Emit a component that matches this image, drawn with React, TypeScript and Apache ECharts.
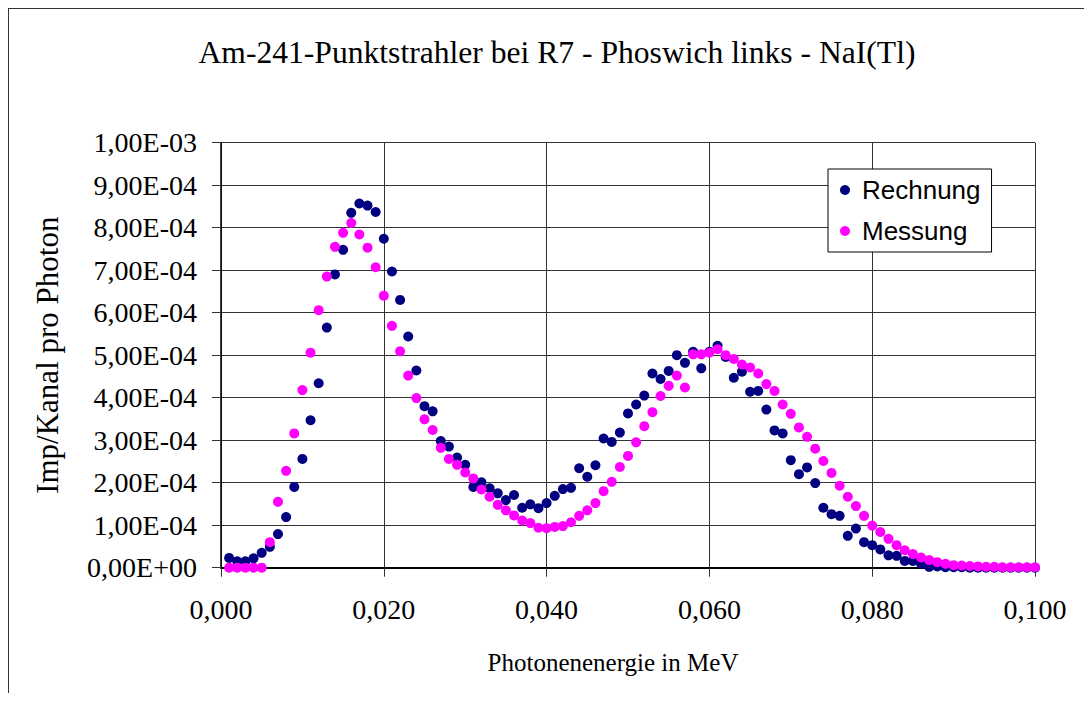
import React, { useEffect, useRef } from "react";
import * as echarts from "echarts";

const TITLE = "Am-241-Punktstrahler bei R7 - Phoswich links - NaI(Tl)";
const X_NAME = "Photonenenergie in MeV";
const Y_NAME = "Imp/Kanal pro Photon";
const SERIES_NAMES = ["Rechnung", "Messung"];

// Photon energy per channel (MeV)
const energies = [
  0.001, 0.002, 0.003, 0.004, 0.005, 0.006, 0.007, 0.008, 0.009, 0.010,
  0.011, 0.012, 0.013, 0.014, 0.015, 0.016, 0.017, 0.018, 0.019, 0.020,
  0.021, 0.022, 0.023, 0.024, 0.025, 0.026, 0.027, 0.028, 0.029, 0.030,
  0.031, 0.032, 0.033, 0.034, 0.035, 0.036, 0.037, 0.038, 0.039, 0.040,
  0.041, 0.042, 0.043, 0.044, 0.045, 0.046, 0.047, 0.048, 0.049, 0.050,
  0.051, 0.052, 0.053, 0.054, 0.055, 0.056, 0.057, 0.058, 0.059, 0.060,
  0.061, 0.062, 0.063, 0.064, 0.065, 0.066, 0.067, 0.068, 0.069, 0.070,
  0.071, 0.072, 0.073, 0.074, 0.075, 0.076, 0.077, 0.078, 0.079, 0.080,
  0.081, 0.082, 0.083, 0.084, 0.085, 0.086, 0.087, 0.088, 0.089, 0.090,
  0.091, 0.092, 0.093, 0.094, 0.095, 0.096, 0.097, 0.098, 0.099, 0.100,
];

// Values in units of 1E-04 Imp/Kanal pro Photon
const rechnungE4 = [
  0.23, 0.15, 0.15, 0.22, 0.35, 0.49, 0.79, 1.19, 1.90, 2.56,
  3.47, 4.34, 5.65, 6.90, 7.48, 8.35, 8.57, 8.52, 8.37, 7.74,
  6.97, 6.30, 5.44, 4.64, 3.80, 3.68, 2.98, 2.85, 2.59, 2.42,
  1.90, 2.01, 1.87, 1.75, 1.59, 1.71, 1.41, 1.49, 1.40, 1.52,
  1.69, 1.85, 1.88, 2.34, 2.14, 2.41, 3.04, 2.96, 3.18, 3.63,
  3.84, 4.05, 4.57, 4.44, 4.63, 5.00, 4.82, 5.08, 4.69, 5.08,
  5.22, 4.96, 4.47, 4.61, 4.14, 4.16, 3.72, 3.23, 3.16, 2.53,
  2.20, 2.36, 1.99, 1.41, 1.26, 1.22, 0.75, 0.92, 0.60, 0.53,
  0.43, 0.29, 0.28, 0.16, 0.16, 0.09, 0.02, 0.03, 0.01, 0.01,
  0.01, 0.00, 0.00, 0.00, 0.00, 0.00, 0.00, 0.00, 0.00, 0.00,
];

const messungE4 = [
  0.00, 0.00, 0.00, 0.00, 0.00, 0.60, 1.55, 2.28, 3.16, 4.18,
  5.06, 6.06, 6.85, 7.55, 7.88, 8.11, 7.84, 7.53, 7.07, 6.40,
  5.69, 5.09, 4.52, 3.99, 3.49, 3.24, 2.82, 2.56, 2.42, 2.24,
  2.10, 1.84, 1.67, 1.48, 1.35, 1.23, 1.11, 1.05, 0.94, 0.93,
  0.96, 0.98, 1.07, 1.22, 1.35, 1.52, 1.80, 2.02, 2.37, 2.63,
  2.95, 3.33, 3.66, 4.04, 4.28, 4.52, 4.24, 5.02, 5.02, 5.06,
  5.14, 5.00, 4.91, 4.78, 4.71, 4.57, 4.32, 4.16, 3.84, 3.62,
  3.30, 3.08, 2.80, 2.51, 2.23, 1.93, 1.67, 1.45, 1.22, 0.99,
  0.84, 0.68, 0.53, 0.41, 0.32, 0.24, 0.18, 0.13, 0.09, 0.06,
  0.05, 0.04, 0.03, 0.02, 0.02, 0.01, 0.01, 0.01, 0.01, 0.01,
];

const X_MIN = 0;
const X_MAX = 0.1;
const X_STEP = 0.02;
const Y_MIN = 0;
const Y_MAX = 0.001;
const Y_STEP = 0.0001;

const COLORS = ["#000080", "#FF00FF"];
const SERIF = "'Liberation Serif', 'Times New Roman', serif";
const SANS = "'Liberation Sans', Arial, sans-serif";

function fmtX(v: number): string {
  return v.toFixed(3).replace(".", ",");
}

function fmtY(v: number): string {
  if (Math.abs(v) < 1e-12) return "0,00E+00";
  const s = v.toExponential(2);
  const [m, e] = s.split("e");
  const n = parseInt(e, 10);
  const sign = n < 0 ? "-" : "+";
  return m.replace(".", ",") + "E" + sign + String(Math.abs(n)).padStart(2, "0");
}

export default function App() {
  const ref = useRef<HTMLDivElement>(null);

  useEffect(() => {
    document.body.style.overflow = "hidden";
    if (!ref.current) return;
    const chart = echarts.init(ref.current, undefined, { renderer: "svg" });
    const toPairs = (vals: number[]) => vals.map((v, i) => [energies[i], v * 1e-4]);

    chart.setOption({
      animation: false,
      backgroundColor: "#ffffff",
      title: {
        text: TITLE,
        left: 545,
        top: 24,
        textAlign: "center",
        textStyle: { fontFamily: SERIF, fontSize: 31.6, fontWeight: "normal", color: "#000" },
      },
      legend: {
        data: SERIES_NAMES,
        orient: "vertical",
        left: 821,
        top: 162,
        icon: "circle",
        itemWidth: 24,
        itemHeight: 10,
        itemGap: 15,
        padding: [8, 11, 8, 12],
        borderColor: "#000",
        borderWidth: 1,
        backgroundColor: "#fff",
        textStyle: { fontFamily: SANS, fontSize: 26, color: "#000", lineHeight: 24 },
      },
      grid: { left: 214, top: 135.7, width: 814, height: 425, containLabel: false },
      xAxis: {
        type: "value",
        min: X_MIN,
        max: X_MAX,
        interval: X_STEP,
        name: X_NAME,
        nameLocation: "middle",
        nameGap: 82,
        nameTextStyle: { fontFamily: SERIF, fontSize: 25, color: "#000", padding: [0, 30, 0, 0] },
        axisLine: { show: true, onZero: false, lineStyle: { color: "#000", width: 2 } },
        axisTick: { show: true, inside: false, length: 9, lineStyle: { color: "#333", width: 1 } },
        axisLabel: { margin: 28, formatter: fmtX, fontFamily: SERIF, fontSize: 28, color: "#000" },
        splitLine: { show: true, lineStyle: { color: "#333", width: 1 } },
      },
      yAxis: {
        type: "value",
        min: Y_MIN,
        max: Y_MAX,
        interval: Y_STEP,
        name: Y_NAME,
        nameLocation: "middle",
        nameGap: 158,
        nameTextStyle: { fontFamily: SERIF, fontSize: 31, color: "#000" },
        axisLine: { show: true, lineStyle: { color: "#000", width: 1.5 } },
        axisTick: { show: true, inside: false, length: 9, lineStyle: { color: "#333", width: 1 } },
        axisLabel: { margin: 24, formatter: fmtY, fontFamily: SERIF, fontSize: 28, color: "#000" },
        splitLine: { show: true, lineStyle: { color: "#333", width: 1 } },
      },
      graphic: [
        { type: "line", shape: { x1: 1, y1: 1, x2: 1100, y2: 1 }, style: { stroke: "#333", lineWidth: 2 } },
        { type: "line", shape: { x1: 1, y1: 1, x2: 1, y2: 700 }, style: { stroke: "#333", lineWidth: 2 } },
      ],
      series: [
        {
          name: SERIES_NAMES[0],
          type: "scatter",
          symbol: "circle",
          symbolSize: 10,
          itemStyle: { color: COLORS[0], opacity: 1 },
          data: toPairs(rechnungE4),
        },
        {
          name: SERIES_NAMES[1],
          type: "scatter",
          symbol: "circle",
          symbolSize: 10,
          itemStyle: { color: COLORS[1], opacity: 1 },
          data: toPairs(messungE4),
        },
      ],
    });

    return () => {
      chart.dispose();
    };
  }, []);

  return (
    <div
      ref={ref}
      style={{ position: "relative", left: -1, top: -1, width: 1085, height: 686 }}
    />
  );
}
